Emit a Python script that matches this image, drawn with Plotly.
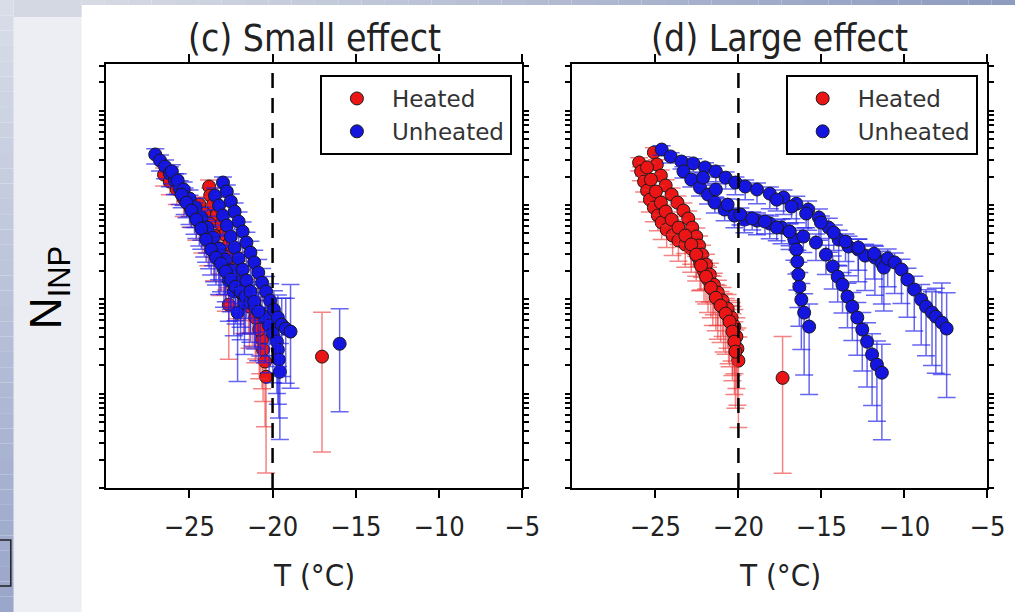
import plotly.graph_objects as go

W, H = 1033, 612

# ---------------- panel (c): small effect ----------------
# heated samples (N in arbitrary units, error bars as decades up / down)
C_HEATED_1_T = [-26.52, -26.17, -25.75, -25.34, -24.93, -24.58, -24.22, -23.87, -23.51, -23.16, -22.81, -22.63]
C_HEATED_1_N = [2.10, 1.77, 1.46, 1.17, 0.940, 0.736, 0.576, 0.452, 0.345, 0.264, 0.197, 0.0879]
C_HEATED_1_UP = [0.07, 0.08, 0.08, 0.09, 0.10, 0.11, 0.12, 0.13, 0.14, 0.15, 0.17, 0.18]
C_HEATED_1_DN = [0.12, 0.14, 0.16, 0.19, 0.21, 0.24, 0.27, 0.30, 0.34, 0.38, 0.42, 0.58]

C_HEATED_2_T = [-23.81, -23.75, -23.57, -23.34, -23.10, -22.87, -22.63, -22.39, -22.16, -21.92,
                -21.69, -21.45, -21.21, -20.98, -20.74, -20.63, -20.57, -20.45, -20.39]
C_HEATED_2_N = [1.57, 1.26, 1.01, 0.792, 0.621, 0.486, 0.381, 0.298, 0.234, 0.183,
                0.143, 0.112, 0.0879, 0.0689, 0.0514, 0.0374, 0.0293, 0.0219, 0.0151]
C_HEATED_2_UP = [0.07, 0.08, 0.08, 0.09, 0.10, 0.11, 0.12, 0.12, 0.13, 0.14,
                 0.15, 0.16, 0.17, 0.18, 0.20, 0.22, 0.24, 0.26, 0.30]
C_HEATED_2_DN = [0.12, 0.14, 0.16, 0.18, 0.21, 0.23, 0.26, 0.29, 0.32, 0.35,
                 0.38, 0.41, 0.44, 0.47, 0.50, 0.52, 0.55, 0.69, 1.02]

C_HEATED_3_T = [-24.40, -24.10, -23.81, -23.51, -23.16, -22.81, -22.45, -22.10, -21.75, -21.39, -21.04, -20.80]
C_HEATED_3_N = [1.01, 0.812, 0.636, 0.474, 0.337, 0.251, 0.188, 0.143, 0.109, 0.0837, 0.0641, 0.0478]
C_HEATED_3_UP = [0.08, 0.09, 0.10, 0.11, 0.12, 0.13, 0.14, 0.15, 0.16, 0.17, 0.18, 0.20]
C_HEATED_3_DN = [0.15, 0.17, 0.20, 0.23, 0.26, 0.30, 0.33, 0.36, 0.40, 0.44, 0.48, 0.52]

C_HEATED_4_T = [-17.03]
C_HEATED_4_N = [0.0247]
C_HEATED_4_UP = [0.47]
C_HEATED_4_DN = [1.01]

# unheated samples
C_UNHEATED_1_T = [-27.05, -26.76, -26.46, -26.17, -25.87, -25.58, -25.28, -24.99, -24.69, -24.40,
                  -24.10, -23.81, -23.51, -23.22, -22.92, -22.63, -22.33, -22.10]
C_UNHEATED_1_N = [3.43, 2.96, 2.56, 2.16, 1.82, 1.50, 1.23, 1.01, 0.832, 0.668,
                  0.536, 0.430, 0.337, 0.264, 0.207, 0.158, 0.121, 0.0723]
C_UNHEATED_1_UP = [0.06, 0.06, 0.07, 0.07, 0.07, 0.08, 0.09, 0.10, 0.10, 0.11,
                   0.12, 0.13, 0.14, 0.15, 0.16, 0.17, 0.18, 0.22]
C_UNHEATED_1_DN = [0.10, 0.11, 0.13, 0.14, 0.15, 0.17, 0.19, 0.21, 0.23, 0.26,
                   0.28, 0.31, 0.34, 0.37, 0.40, 0.43, 0.47, 0.73]

C_UNHEATED_2_T = [-25.46, -25.17, -24.87, -24.58, -24.28, -23.99, -23.69, -23.40, -23.10, -22.81,
                  -22.51, -22.22, -21.92, -21.63, -21.33, -21.04, -20.74, -20.45, -20.21, -19.98,
                  -19.74, -19.68, -19.62, -19.56]
C_UNHEATED_2_N = [1.29, 1.06, 0.873, 0.701, 0.563, 0.430, 0.337, 0.277, 0.240, 0.197,
                  0.162, 0.136, 0.121, 0.107, 0.0923, 0.0817, 0.0724, 0.0641, 0.0527, 0.0433,
                  0.0356, 0.0293, 0.0230, 0.0171]
C_UNHEATED_2_UP = [0.08, 0.08, 0.09, 0.09, 0.10, 0.10, 0.11, 0.12, 0.12, 0.13,
                   0.13, 0.14, 0.14, 0.15, 0.15, 0.16, 0.17, 0.18, 0.19, 0.20,
                   0.22, 0.24, 0.26, 0.30]
C_UNHEATED_2_DN = [0.14, 0.16, 0.18, 0.20, 0.22, 0.24, 0.27, 0.29, 0.30, 0.32,
                   0.34, 0.36, 0.38, 0.40, 0.42, 0.44, 0.46, 0.48, 0.50, 0.52,
                   0.55, 0.58, 0.62, 0.72]

C_UNHEATED_3_T = [-22.98, -22.75, -22.51, -22.28, -22.04, -21.80, -21.57, -21.33, -21.10, -20.86,
                  -20.63, -20.39, -20.15, -19.92, -19.68, -19.45, -19.21, -18.92]
C_UNHEATED_3_N = [1.73, 1.39, 1.09, 0.852, 0.668, 0.523, 0.400, 0.313, 0.246, 0.192,
                  0.150, 0.121, 0.0969, 0.0778, 0.0641, 0.0540, 0.0490, 0.0455]
C_UNHEATED_3_UP = [0.06, 0.07, 0.08, 0.09, 0.10, 0.10, 0.11, 0.12, 0.13, 0.14,
                   0.15, 0.16, 0.18, 0.20, 0.24, 0.28, 0.32, 0.50]
C_UNHEATED_3_DN = [0.12, 0.14, 0.17, 0.19, 0.22, 0.25, 0.28, 0.31, 0.34, 0.37,
                   0.40, 0.43, 0.46, 0.49, 0.52, 0.55, 0.58, 0.60]

C_UNHEATED_4_T = [-15.97]
C_UNHEATED_4_N = [0.0338]
C_UNHEATED_4_UP = [0.37]
C_UNHEATED_4_DN = [0.72]

C_UNHEATED_5_T = [-23.46, -23.22, -22.98, -22.75, -22.51, -22.28, -22.04, -21.80, -21.57, -21.33, -21.10, -20.86]
C_UNHEATED_5_N = [1.26, 0.986, 0.773, 0.606, 0.463, 0.354, 0.271, 0.207, 0.158, 0.121, 0.0946, 0.0741]
C_UNHEATED_5_UP = [0.08, 0.09, 0.10, 0.11, 0.12, 0.13, 0.14, 0.15, 0.16, 0.17, 0.18, 0.20]
C_UNHEATED_5_DN = [0.15, 0.17, 0.20, 0.23, 0.26, 0.29, 0.32, 0.36, 0.40, 0.44, 0.48, 0.52]

C_UNHEATED_6_T = [-26.05, -25.70, -25.34, -24.99, -24.63, -24.28, -23.93, -23.57, -23.22, -22.87,
                  -22.51, -22.22, -21.92, -21.69]
C_UNHEATED_6_N = [2.27, 1.82, 1.46, 1.17, 0.939, 0.736, 0.576, 0.452, 0.345, 0.264,
                  0.202, 0.154, 0.118, 0.0923]
C_UNHEATED_6_UP = [0.07, 0.07, 0.08, 0.09, 0.10, 0.11, 0.12, 0.13, 0.14, 0.15, 0.16, 0.17, 0.18, 0.20]
C_UNHEATED_6_DN = [0.13, 0.15, 0.17, 0.19, 0.21, 0.24, 0.27, 0.30, 0.33, 0.37, 0.41, 0.45, 0.50, 0.55]

# ---------------- panel (d): large effect ----------------
D_HEATED_1_T = [-25.98, -25.86, -25.68, -25.50, -25.33, -25.09, -24.85, -24.62, -24.32, -23.96, -23.61,
                -23.20, -22.84, -22.54, -22.31, -22.07, -21.83, -21.54, -21.24, -20.89, -20.59, -20.36]
D_HEATED_1_N = [2.82, 2.27, 1.77, 1.42, 1.14, 0.939, 0.773, 0.652, 0.549, 0.474, 0.420,
                0.381, 0.345, 0.291, 0.240, 0.197, 0.162, 0.127, 0.0993, 0.0797, 0.0656, 0.0553]
D_HEATED_1_UP = [0.05, 0.05, 0.06, 0.06, 0.06, 0.07, 0.07, 0.08, 0.08, 0.09, 0.09,
                 0.10, 0.10, 0.11, 0.11, 0.12, 0.13, 0.14, 0.15, 0.16, 0.17, 0.18]
D_HEATED_1_DN = [0.09, 0.10, 0.11, 0.12, 0.13, 0.15, 0.16, 0.18, 0.19, 0.21, 0.22,
                 0.24, 0.25, 0.27, 0.29, 0.32, 0.35, 0.38, 0.42, 0.46, 0.50, 0.55]

D_HEATED_2_T = [-25.09, -24.91, -24.67, -24.38, -24.02, -23.67, -23.31, -23.02, -22.78, -22.54, -22.37, -22.19,
                -21.95, -21.72, -21.48, -21.24, -20.95, -20.65, -20.41, -20.24, -20.12, -20.06, -20.00]
D_HEATED_2_N = [3.60, 2.69, 2.05, 1.61, 1.29, 1.06, 0.873, 0.718, 0.576, 0.463, 0.372, 0.298,
                0.234, 0.183, 0.143, 0.118, 0.0969, 0.0797, 0.0641, 0.0514, 0.0403, 0.0300, 0.0224]
D_HEATED_2_UP = [0.05, 0.05, 0.06, 0.06, 0.07, 0.07, 0.08, 0.08, 0.09, 0.09, 0.10, 0.10,
                 0.11, 0.12, 0.12, 0.13, 0.14, 0.15, 0.16, 0.18, 0.20, 0.22, 0.25]
D_HEATED_2_DN = [0.09, 0.10, 0.11, 0.12, 0.13, 0.15, 0.16, 0.18, 0.19, 0.21, 0.22, 0.24,
                 0.26, 0.29, 0.32, 0.35, 0.38, 0.42, 0.46, 0.50, 0.55, 0.60, 0.71]

D_HEATED_3_T = [-25.50, -25.27, -24.97, -24.67, -24.38, -24.02, -23.61, -23.20, -22.84, -22.54,
                -22.25, -21.95, -21.66, -21.36, -21.07, -20.77, -20.53, -20.36, -20.24, -20.18]
D_HEATED_3_N = [2.50, 1.86, 1.39, 1.06, 0.852, 0.701, 0.576, 0.474, 0.381, 0.298,
                0.228, 0.174, 0.133, 0.104, 0.0858, 0.0706, 0.0581, 0.0455, 0.0356, 0.0279]
D_HEATED_3_UP = [0.05, 0.06, 0.06, 0.07, 0.07, 0.08, 0.08, 0.09, 0.10, 0.10,
                 0.11, 0.12, 0.13, 0.14, 0.15, 0.16, 0.17, 0.19, 0.21, 0.23]
D_HEATED_3_DN = [0.10, 0.11, 0.12, 0.13, 0.15, 0.16, 0.18, 0.19, 0.21, 0.23,
                 0.26, 0.29, 0.32, 0.35, 0.39, 0.43, 0.48, 0.52, 0.56, 0.60]

D_HEATED_4_T = [-17.34]
D_HEATED_4_N = [0.0147]
D_HEATED_4_UP = [0.44]
D_HEATED_4_DN = [1.01]

D_UNHEATED_1_T = [-24.62, -24.08, -23.43, -22.72, -22.01, -21.36, -20.77, -20.18, -19.59, -18.88, -18.11, -17.28,
                  -16.51, -15.80, -15.15, -14.56, -13.96, -13.37, -12.78, -12.37, -11.78, -11.36, -11.24]
D_UNHEATED_1_N = [3.87, 3.27, 2.89, 2.76, 2.50, 2.27, 1.95, 1.73, 1.57, 1.46, 1.32, 1.20,
                  1.03, 0.895, 0.736, 0.576, 0.430, 0.363, 0.337, 0.291, 0.277, 0.240, 0.217]
D_UNHEATED_1_UP = [0.04, 0.04, 0.05, 0.05, 0.05, 0.06, 0.06, 0.06, 0.07, 0.07, 0.07, 0.08,
                   0.08, 0.09, 0.09, 0.10, 0.10, 0.11, 0.11, 0.12, 0.12, 0.13, 0.13]
D_UNHEATED_1_DN = [0.06, 0.07, 0.08, 0.09, 0.10, 0.11, 0.12, 0.13, 0.14, 0.15, 0.16, 0.18,
                   0.20, 0.22, 0.24, 0.26, 0.28, 0.31, 0.34, 0.37, 0.40, 0.43, 0.46]

D_UNHEATED_2_T = [-23.31, -22.84, -22.31, -21.83, -21.42, -20.83, -20.24, -19.64, -18.88, -18.11,
                  -17.40, -16.92, -16.63, -16.51, -16.45, -16.39, -16.33, -16.21, -16.04, -15.74]
D_UNHEATED_2_N = [2.27, 1.86, 1.53, 1.29, 1.06, 0.895, 0.773, 0.701, 0.684, 0.636,
                  0.576, 0.523, 0.430, 0.337, 0.251, 0.183, 0.136, 0.0993, 0.0723, 0.0514]
D_UNHEATED_2_UP = [0.05, 0.05, 0.06, 0.06, 0.06, 0.07, 0.07, 0.08, 0.08, 0.08,
                   0.09, 0.09, 0.10, 0.11, 0.12, 0.13, 0.15, 0.17, 0.20, 0.24]
D_UNHEATED_2_DN = [0.07, 0.08, 0.09, 0.10, 0.11, 0.12, 0.13, 0.14, 0.15, 0.16,
                   0.17, 0.19, 0.22, 0.26, 0.30, 0.35, 0.42, 0.53, 0.66, 0.72]

D_UNHEATED_3_T = [-22.13, -21.36, -20.65, -19.88, -19.17, -18.40, -17.69, -16.92, -16.09, -15.33, -14.73,
                  -14.32, -14.02, -13.73, -13.43, -13.14, -12.84, -12.54, -12.25, -11.95, -11.66, -11.36]
D_UNHEATED_3_N = [1.95, 1.46, 1.01, 0.792, 0.718, 0.668, 0.576, 0.523, 0.463, 0.400, 0.298,
                  0.223, 0.174, 0.143, 0.107, 0.0837, 0.0641, 0.0478, 0.0356, 0.0260, 0.0203, 0.0167]
D_UNHEATED_3_UP = [0.05, 0.06, 0.06, 0.07, 0.07, 0.07, 0.08, 0.08, 0.09, 0.09, 0.10,
                   0.11, 0.12, 0.13, 0.14, 0.15, 0.16, 0.18, 0.20, 0.22, 0.25, 0.30]
D_UNHEATED_3_DN = [0.08, 0.09, 0.10, 0.11, 0.12, 0.13, 0.14, 0.15, 0.17, 0.19, 0.21,
                   0.24, 0.27, 0.30, 0.33, 0.36, 0.40, 0.44, 0.48, 0.54, 0.60, 0.71]

D_UNHEATED_4_T = [-17.69, -16.80, -15.92, -15.03, -14.26, -13.55, -12.78, -11.83, -11.01, -10.59,
                  -10.18, -9.82, -9.41, -8.99, -8.70, -8.34, -8.11, -7.75, -7.46]
D_UNHEATED_4_N = [1.14, 0.962, 0.812, 0.652, 0.510, 0.409, 0.354, 0.305, 0.271, 0.246,
                  0.207, 0.162, 0.127, 0.0993, 0.0837, 0.0724, 0.0656, 0.0567, 0.0490]
D_UNHEATED_4_UP = [0.06, 0.06, 0.07, 0.07, 0.08, 0.08, 0.09, 0.09, 0.10, 0.10,
                   0.11, 0.12, 0.14, 0.16, 0.18, 0.22, 0.30, 0.42, 0.38]
D_UNHEATED_4_DN = [0.12, 0.13, 0.15, 0.17, 0.19, 0.21, 0.24, 0.27, 0.30, 0.33,
                   0.36, 0.40, 0.44, 0.48, 0.52, 0.56, 0.60, 0.55, 0.73]

THRESHOLD_T = -20
X_TICKS = [-25, -20, -15, -10, -5]
X_RANGE = [-30, -5]
LOG_N_RANGE = [-3, 1.5]
PANEL_TITLES = ["(c) Small effect", "(d) Large effect"]
X_TITLE = "T (°C)"
Y_TITLE = "N<sub>INP</sub>"

RED = "#ec1515"
BLUE = "#1515e0"
RED_ERR = "rgba(235,50,50,0.6)"
BLUE_ERR = "rgba(30,30,235,0.68)"

TEXT_FONT = "DejaVu Sans Condensed, DejaVu Sans"

fig = go.Figure()


def add_series(T, N, up, dn, color, ecolor, axis, legend, name, show):
    xa, ya = ("x", "y") if axis == 1 else ("x2", "y2")
    plus = [n * (10 ** u - 1) for n, u in zip(N, up)]
    minus = [n * (1 - 10 ** (-d)) for n, d in zip(N, dn)]
    fig.add_trace(go.Scatter(
        x=T, y=N, mode="markers", name=name,
        xaxis=xa, yaxis=ya, legend=legend, showlegend=show,
        marker=dict(size=13, color=color, line=dict(color="#1a1a1a", width=1)),
        error_y=dict(type="data", symmetric=False, array=plus, arrayminus=minus,
                     color=ecolor, thickness=1.5, width=9),
    ))


# heated first, unheated drawn over
c_heated = [
    (C_HEATED_1_T, C_HEATED_1_N, C_HEATED_1_UP, C_HEATED_1_DN),
    (C_HEATED_2_T, C_HEATED_2_N, C_HEATED_2_UP, C_HEATED_2_DN),
    (C_HEATED_3_T, C_HEATED_3_N, C_HEATED_3_UP, C_HEATED_3_DN),
    (C_HEATED_4_T, C_HEATED_4_N, C_HEATED_4_UP, C_HEATED_4_DN),
]
c_unheated = [
    (C_UNHEATED_1_T, C_UNHEATED_1_N, C_UNHEATED_1_UP, C_UNHEATED_1_DN),
    (C_UNHEATED_6_T, C_UNHEATED_6_N, C_UNHEATED_6_UP, C_UNHEATED_6_DN),
    (C_UNHEATED_2_T, C_UNHEATED_2_N, C_UNHEATED_2_UP, C_UNHEATED_2_DN),
    (C_UNHEATED_5_T, C_UNHEATED_5_N, C_UNHEATED_5_UP, C_UNHEATED_5_DN),
    (C_UNHEATED_3_T, C_UNHEATED_3_N, C_UNHEATED_3_UP, C_UNHEATED_3_DN),
    (C_UNHEATED_4_T, C_UNHEATED_4_N, C_UNHEATED_4_UP, C_UNHEATED_4_DN),
]
d_heated = [
    (D_HEATED_1_T, D_HEATED_1_N, D_HEATED_1_UP, D_HEATED_1_DN),
    (D_HEATED_2_T, D_HEATED_2_N, D_HEATED_2_UP, D_HEATED_2_DN),
    (D_HEATED_3_T, D_HEATED_3_N, D_HEATED_3_UP, D_HEATED_3_DN),
    (D_HEATED_4_T, D_HEATED_4_N, D_HEATED_4_UP, D_HEATED_4_DN),
]
d_unheated = [
    (D_UNHEATED_1_T, D_UNHEATED_1_N, D_UNHEATED_1_UP, D_UNHEATED_1_DN),
    (D_UNHEATED_2_T, D_UNHEATED_2_N, D_UNHEATED_2_UP, D_UNHEATED_2_DN),
    (D_UNHEATED_3_T, D_UNHEATED_3_N, D_UNHEATED_3_UP, D_UNHEATED_3_DN),
    (D_UNHEATED_4_T, D_UNHEATED_4_N, D_UNHEATED_4_UP, D_UNHEATED_4_DN),
]

for axis, legend, heated, unheated in [(1, "legend", c_heated, c_unheated),
                                       (2, "legend2", d_heated, d_unheated)]:
    for i, s in enumerate(heated):
        add_series(*s, RED, RED_ERR, axis, legend, "Heated", i == 0)
    for i, s in enumerate(unheated):
        add_series(*s, BLUE, BLUE_ERR, axis, legend, "Unheated", i == 0)

# ---------------- layout ----------------
def px_x(p):
    return p / W


def px_y(p):
    return 1 - p / H


X_DOMS = [[px_x(108), px_x(531.5)], [px_x(582.5), px_x(1005)]]
Y_DOM = [px_y(488), px_y(63.5)]

axis_line = dict(showline=True, linecolor="black", linewidth=2, mirror="ticks",
                 showgrid=False, zeroline=False, ticks="outside", tickcolor="black",
                 tickwidth=1.5)

xcommon = dict(axis_line, range=X_RANGE, tickvals=X_TICKS, ticklen=8,
               ticklabelstandoff=6,
               tickfont=dict(family=TEXT_FONT, size=27, color="#222"))
ycommon = dict(axis_line, type="log", range=LOG_N_RANGE, dtick="D1", ticklen=5,
               showticklabels=False)

fig.update_layout(
    width=W, height=H, autosize=False,
    margin=dict(l=0, r=0, t=0, b=0),
    paper_bgcolor="white", plot_bgcolor="white",
    xaxis=dict(xcommon, domain=X_DOMS[0], anchor="y"),
    yaxis=dict(ycommon, domain=Y_DOM, anchor="x"),
    xaxis2=dict(xcommon, domain=X_DOMS[1], anchor="y2"),
    yaxis2=dict(ycommon, domain=Y_DOM, anchor="x2"),
)

legend_style = dict(bgcolor="white", bordercolor="black", borderwidth=2,
                    font=dict(family="DejaVu Sans", size=23, color="#333"),
                    xanchor="right", yanchor="top", itemwidth=60,
                    tracegroupgap=0)
fig.update_layout(
    legend=dict(legend_style, x=px_x(521), y=px_y(75)),
    legend2=dict(legend_style, x=px_x(995), y=px_y(75)),
)

# threshold lines at -20 °C
for xr, yr in [("x", "y domain"), ("x2", "y2 domain")]:
    fig.add_shape(type="line", xref=xr, yref=yr, x0=THRESHOLD_T, x1=THRESHOLD_T,
                  y0=0, y1=1, line=dict(color="black", width=2.5, dash="15px,10px"))

# slide background decoration
N_STEPS = 40
for k in range(N_STEPS):
    f = k / (N_STEPS - 1)
    # left vertical strip, darker toward the bottom
    r = int(216 - 62 * f); g = int(221 - 55 * f); b = int(232 - 30 * f)
    fig.add_shape(type="rect", xref="paper", yref="paper", layer="below",
                  x0=0, x1=px_x(14), y0=px_y(H * (k + 1) / N_STEPS), y1=px_y(H * k / N_STEPS),
                  fillcolor=f"rgb({r},{g},{b})", line_width=0)
    # top strip, darker toward the right
    r = int(214 - 72 * f); g = int(218 - 62 * f); b = int(228 - 36 * f)
    fig.add_shape(type="rect", xref="paper", yref="paper", layer="below",
                  x0=px_x(83 + (W - 83) * k / N_STEPS), x1=px_x(83 + (W - 83) * (k + 1) / N_STEPS),
                  y0=px_y(5), y1=1, fillcolor=f"rgb({r},{g},{b})", line_width=0)
fig.add_shape(type="rect", xref="paper", yref="paper", layer="below",
              x0=px_x(14), x1=px_x(83), y0=0, y1=1, fillcolor="#eceef3", line_width=0)
fig.add_shape(type="rect", xref="paper", yref="paper", layer="below",
              x0=px_x(14), x1=px_x(83), y0=px_y(17), y1=1, fillcolor="#d4d8e3", line_width=0)
fig.add_shape(type="rect", xref="paper", yref="paper",
              x0=px_x(-3), x1=px_x(11), y0=px_y(586), y1=px_y(540),
              fillcolor="rgba(0,0,0,0)", line=dict(color="#222", width=1.5))

# titles and axis labels
for dom, title in zip(X_DOMS, PANEL_TITLES):
    cx = (dom[0] + dom[1]) / 2
    fig.add_annotation(x=cx, y=px_y(38), xref="paper", yref="paper", text=title,
                       showarrow=False, font=dict(family=TEXT_FONT, size=37, color="#222"),
                       xanchor="center", yanchor="middle")
    fig.add_annotation(x=cx, y=px_y(575), xref="paper", yref="paper", text=X_TITLE,
                       showarrow=False, font=dict(family=TEXT_FONT, size=31, color="#222"),
                       xanchor="center", yanchor="middle")

fig.add_annotation(x=px_x(50), y=px_y(288), xref="paper", yref="paper", text=Y_TITLE,
                   textangle=-90, showarrow=False,
                   font=dict(family="Liberation Sans", size=44, color="black"),
                   xanchor="center", yanchor="middle")

fig.write_html("out.html")
